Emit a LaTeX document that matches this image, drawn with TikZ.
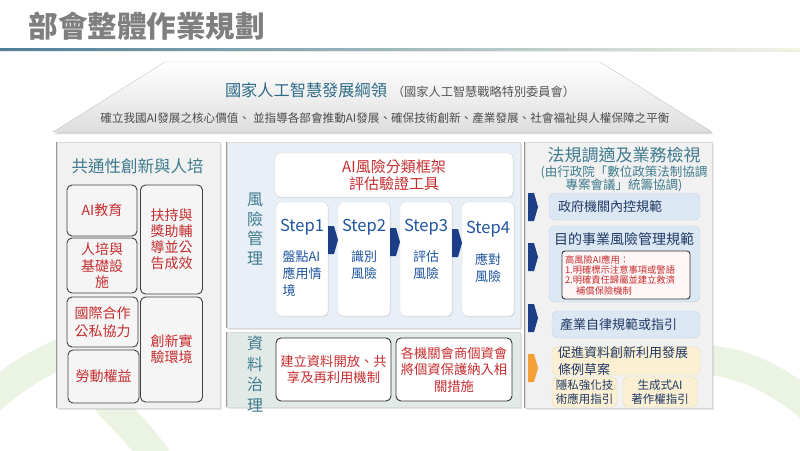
\documentclass[tikz,border=0pt]{standalone}
\usepackage{fontspec}
\setmainfont{Noto Sans CJK TC}
\usetikzlibrary{shadows,shadings}
\newcommand{\myfs}[2]{\fontsize{#1pt}{#2pt}\selectfont}
\definecolor{titlegray}{HTML}{7F7F7F}
\definecolor{headteal}{HTML}{3F7B8E}
\definecolor{roofblue}{HTML}{2E6A87}
\definecolor{roofgray}{HTML}{555555}
\definecolor{redtxt}{HTML}{C62D2F}
\definecolor{stepblue}{HTML}{1F55A0}
\definecolor{navyarr}{HTML}{1B3E86}
\definecolor{orangearr}{HTML}{F4A03A}
\definecolor{boxnavy}{HTML}{1F3864}
\definecolor{lblue}{HTML}{DCE7F4}
\definecolor{lblueborder}{HTML}{C3D3E6}
\definecolor{lyellow}{HTML}{FBF0D3}
\definecolor{lyellowborder}{HTML}{E9DCB0}
\definecolor{midtop}{HTML}{E8EFF7}
\definecolor{midbot}{HTML}{E1EAE7}
\definecolor{panelgray}{HTML}{F1F1F1}
\definecolor{lineL}{HTML}{4F7E98}
\definecolor{lineM}{HTML}{A9C48A}
\definecolor{lineR}{HTML}{F4F5E4}
\definecolor{bggreen}{HTML}{D3E8C3}
\begin{document}
\begin{tikzpicture}[x=1pt,y=-1pt,
  panel/.style={draw=black!15, fill=panelgray, inner sep=0pt,
    drop shadow={opacity=0.2, shadow xshift=1.5pt, shadow yshift=-1.5pt}},
  edge/.style={draw=black!40, line width=1.2pt},
  lbox/.style={draw=black!75, line width=0.9pt, rounded corners=5pt, fill=black!4,
    text=redtxt, font=\myfs{14}{16}, align=center, inner sep=0pt},
  wbox/.style={draw=black!15, fill=white, rounded corners=5pt, inner sep=0pt,
    drop shadow={opacity=0.15, shadow xshift=1pt, shadow yshift=-1pt}},
  dbox/.style={draw=black!80, line width=0.9pt, fill=white, rounded corners=5pt,
    text=redtxt, font=\myfs{13.3}{16.5}, align=center, inner sep=0pt},
  steplabel/.style={text=stepblue, font=\myfs{16.5}{18}, inner sep=0pt},
  stepdesc/.style={text=stepblue, font=\myfs{13}{17}, align=center, inner sep=0pt},
  vlabel/.style={text=headteal, font=\myfs{16}{20}, align=center, inner sep=0pt},
  head/.style={text=headteal, font=\myfs{16.5}{19}},
  bluebox/.style={draw=lblueborder, fill=lblue, rounded corners=6pt, inner sep=0pt},
  yelbox/.style={draw=lyellowborder, fill=lyellow, rounded corners=5pt, inner sep=0pt},
  btext/.style={text=boxnavy, font=\myfs{13}{17}, align=left, inner sep=0pt},
  bgarc/.style={draw=bggreen, line width=30pt, opacity=0.45, line cap=round},
  blockarrow/.pic={\path[pic actions] (-5,-14) -- (1,-14) -- (5,0) -- (1,14) -- (-5,14) -- cycle;}
]
\useasboundingbox (0,0) rectangle (800,450);
\fill[white] (0,0) rectangle (800,450);

% faint background arcs
\draw[bgarc] (-30,420) .. controls (10,375) and (60,345) .. (140,330);
\draw[bgarc] (110,405) .. controls (130,425) and (150,445) .. (170,480);
\draw[bgarc] (700,360) .. controls (745,360) and (790,385) .. (830,425);

% title
\node[font=\bfseries\myfs{29.5}{32}, text=titlegray, inner sep=0pt] (title) at (146.5,26) {部會整體作業規劃};
\shade[left color=lineL, middle color=lineM, right color=lineR] (0,48) rectangle (800,50.5);
\fill[black!8] (0,50.5) rectangle (800,51.5);

% roof
\path[draw=black!22, top color=white, bottom color=black!13,
  drop shadow={opacity=0.3, shadow xshift=1.5pt, shadow yshift=-2pt}]
  (165,62) -- (600,62) -- (712,132) -- (53,132) -- cycle;
\node[inner sep=0pt] (rooft) at (400,90)
  {{\color{roofblue}\myfs{16.2}{18}國家人工智慧發展綱領}\hspace{5pt}{\color{roofgray}\myfs{12.2}{13}（國家人工智慧戰略特別委員會）}};
\node[inner sep=0pt, text=roofgray!90!black, font=\myfs{11.6}{13}] (roofsub) at (385,118)
  {確立我國AI發展之核心價值、\hspace{3pt}並指導各部會推動AI發展、確保技術創新、產業發展、社會福祉與人權保障之平衡};

% left panel
\node[panel, minimum width=163, minimum height=266] (lp) at (138.5,275) {};
\draw[edge] (lp.north west) -- (lp.south west);
\node[head, inner sep=0pt] (lpt) at (137.5,166) {共通性創新與人培};
\node[lbox, minimum width=70, minimum height=51] (edu) at (102,210.5) {AI教育};
\node[lbox, minimum width=70, minimum height=55] (infra) at (102,265.5) {人培與\\[1pt]基礎設\\施};
\node[lbox, minimum width=71, minimum height=50] (coop) at (102.5,322) {國際合作\\[2pt]公私協力};
\node[lbox, minimum width=71, minimum height=53] (labor) at (103.5,376.5) {勞動權益};
\node[lbox, minimum width=62, minimum height=109] (support) at (171.5,239.5) {扶持與\\獎助輔\\導並公\\告成效};
\node[lbox, minimum width=62, minimum height=105] (sandbox) at (171.5,349.5) {創新實\\驗環境};

% middle panel: risk management
\node[panel, fill=midtop, minimum width=293, minimum height=186] (mt) at (373.5,235) {};
\draw[edge] (mt.north west) -- (mt.south west);
\node[vlabel, font=\myfs{16}{19.5}] (riskl) at (255,229) {風\\險\\管\\理};
\node[wbox, minimum width=238, minimum height=44, text=redtxt, font=\myfs{15}{17}, align=center] (frame) at (394,175) {AI風險分類框架\\評估驗證工具};
\node[wbox, minimum width=52, minimum height=114] (s1) at (302,259) {};
\node[wbox, minimum width=52, minimum height=114] (s2) at (364,259) {};
\node[wbox, minimum width=52, minimum height=114] (s3) at (426,259) {};
\node[wbox, minimum width=52, minimum height=114] (s4) at (488,259) {};
\node[steplabel] (s1l) at (302,227) {Step1};
\node[steplabel] (s2l) at (364,227) {Step2};
\node[steplabel] (s3l) at (426,227) {Step3};
\node[steplabel] (s4l) at (488,229) {Step4};
\node[stepdesc, align=left, anchor=north] (s1d) at (302,250) {盤點AI\\應用情\\境};
\node[stepdesc, anchor=north] (s2d) at (364,250) {識別\\風險};
\node[stepdesc, anchor=north] (s3d) at (426,250) {評估\\風險};
\node[stepdesc, anchor=north] (s4d) at (488,253) {應對\\風險};
\coordinate (a1) at (333,240);
\coordinate (a2) at (395,242);
\coordinate (a3) at (457,243);
\pic[fill=navyarr] at (a1) {blockarrow};
\pic[fill=navyarr] at (a2) {blockarrow};
\pic[fill=navyarr] at (a3) {blockarrow};

% middle panel: data governance
\node[panel, fill=midbot, minimum width=293, minimum height=75] (mb) at (373.5,369.5) {};
\draw[edge] (mb.north west) -- (mb.south west);
\node[vlabel, font=\myfs{16}{20.7}] (datal) at (255,374) {資\\料\\治\\理};
\node[dbox, minimum width=115, minimum height=63] (d1) at (333.5,369.5) {建立資料開放、共\\享及再利用機制};
\node[dbox, minimum width=116, minimum height=63] (d2) at (454,369.5) {各機關會商個資會\\將個資保護納入相\\關措施};

% right panel
\node[panel, minimum width=187, minimum height=266] (rp) at (618.5,275) {};
\draw[edge] (rp.north west) -- (rp.south west);
\node[text=headteal, font=\myfs{17}{19}, inner sep=0pt] (rpt) at (624,155) {法規調適及業務檢視};
\node[text=headteal, font=\myfs{12.5}{13.5}, align=center, inner sep=0pt] (rps) at (624,179) {(由行政院「數位政策法制協調\\專案會議」統籌協調)};
\node[bluebox, minimum width=151, minimum height=27] (r1) at (624.5,206.5) {};
\node[btext, anchor=west] (r1t) at (558,207) {政府機關內控規範};
\node[bluebox, minimum width=151, minimum height=76] (r2) at (624.5,264) {};
\node[btext, font=\myfs{14}{17}] (r2t) at (624,239.5) {目的事業風險管理規範};
\node[draw=black!80, line width=0.9pt, fill=red!3, rounded corners=3pt, minimum width=128, minimum height=48,
  text width=122pt, inner xsep=3pt, inner ysep=0pt, align=left, text=redtxt, font=\myfs{9.3}{10.4}] (r2i) at (626,275)
  {高風險AI應用：\\1.明確標示注意事項或警語\\2.明確責任歸屬並建立救濟\\\hspace*{1.2em}補償保險機制};
\node[bluebox, minimum width=148, minimum height=27] (r3) at (626,324.5) {};
\node[btext, anchor=west] (r3t) at (560,324.5) {產業自律規範或指引};
\node[yelbox, minimum width=148, minimum height=28] (r4) at (626,361) {};
\node[btext, anchor=west] (r4t) at (558,361) {促進資料創新利用發展\\條例草案};
\node[yelbox, minimum width=65, minimum height=30, text=boxnavy, font=\myfs{11.5}{13.5}, align=center] (r5) at (584.5,392) {隱私強化技\\術應用指引};
\node[yelbox, minimum width=74, minimum height=30, text=boxnavy, font=\myfs{11.5}{13.5}, align=center] (r6) at (660,392) {生成式AI\\著作權指引};
\coordinate (b1) at (533,207);
\coordinate (b2) at (533,257);
\coordinate (b3) at (533,318);
\coordinate (b4) at (533,368);
\pic[fill=navyarr] at (b1) {blockarrow};
\pic[fill=navyarr] at (b2) {blockarrow};
\pic[fill=navyarr] at (b3) {blockarrow};
\pic[fill=orangearr] at (b4) {blockarrow};
\end{tikzpicture}
\end{document}
